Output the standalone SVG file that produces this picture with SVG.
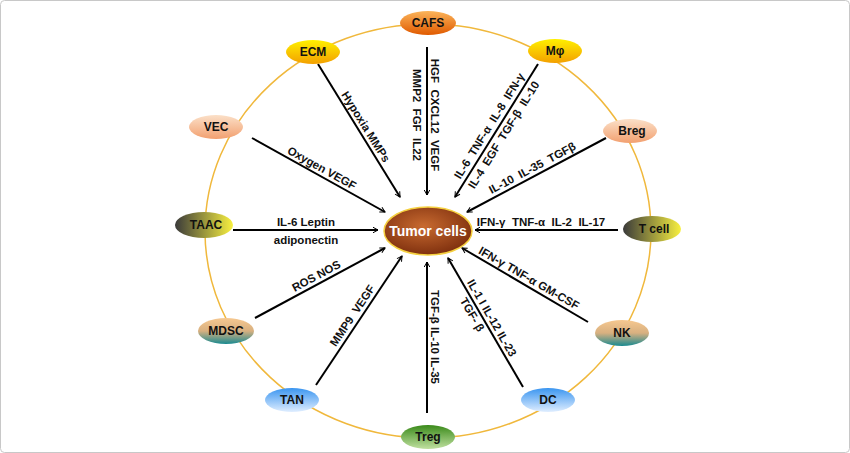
<svg xmlns="http://www.w3.org/2000/svg" width="850" height="453" viewBox="0 0 850 453">
<defs>
<style>
.t{font-family:"Liberation Sans",Arial,sans-serif;font-weight:bold;font-size:11.5px;fill:#111;text-anchor:middle;white-space:pre}
.n{font-family:"Liberation Sans",Arial,sans-serif;font-weight:bold;font-size:12px;fill:#111;text-anchor:middle}
.a{stroke:#000;stroke-width:2;fill:none;marker-end:url(#ah)}
</style>
<marker id="ah" viewBox="0 0 12 12" refX="11" refY="6" markerWidth="6" markerHeight="6" markerUnits="userSpaceOnUse" orient="auto" overflow="visible">
<path d="M1,0.5 L11,6 L1,11.5" fill="none" stroke="#000" stroke-width="2"/>
</marker>
<linearGradient id="gO" x1="0" y1="0" x2="0" y2="1"><stop offset="0" stop-color="#fbb45a"/><stop offset="1" stop-color="#e05a00"/></linearGradient>
<linearGradient id="gY" x1="0" y1="0" x2="0" y2="1"><stop offset="0" stop-color="#fff000"/><stop offset="1" stop-color="#f3a000"/></linearGradient>
<linearGradient id="gP" x1="0" y1="0" x2="0" y2="1"><stop offset="0" stop-color="#fbe0c8"/><stop offset="1" stop-color="#f2a070"/></linearGradient>
<linearGradient id="gD" x1="0" y1="0" x2="1" y2="0"><stop offset="0" stop-color="#3a3a3a"/><stop offset="1" stop-color="#f8f040"/></linearGradient>
<linearGradient id="gT" x1="0" y1="0" x2="0" y2="1"><stop offset="0" stop-color="#f6c890"/><stop offset="0.5" stop-color="#d8b080"/><stop offset="1" stop-color="#1a8a90"/></linearGradient>
<linearGradient id="gB" x1="0" y1="0" x2="0" y2="1"><stop offset="0" stop-color="#3a95f0"/><stop offset="1" stop-color="#e0eeff"/></linearGradient>
<linearGradient id="gG" x1="0" y1="0" x2="0" y2="1"><stop offset="0" stop-color="#3a8a1a"/><stop offset="1" stop-color="#c0e0a0"/></linearGradient>
<radialGradient id="gR" cx="0.45" cy="0.4" r="0.65"><stop offset="0" stop-color="#c86a30"/><stop offset="1" stop-color="#7a2c0c"/></radialGradient>
</defs>
<rect x="0.5" y="0.5" width="849" height="452" rx="4" fill="#fff" stroke="#c8c8c8"/>
<ellipse cx="428" cy="231" rx="223" ry="207" fill="none" stroke="#f0b83c" stroke-width="1.5"/>
<g id="connectors">
<line class="a" x1="427" y1="47" x2="427" y2="195"/>
<line class="a" x1="318" y1="64" x2="400" y2="197"/>
<line class="a" x1="538" y1="64" x2="455" y2="197"/>
<line class="a" x1="606" y1="138" x2="467" y2="212"/>
<line class="a" x1="252" y1="138" x2="385" y2="212"/>
<line class="a" x1="233" y1="230" x2="378" y2="230"/>
<line class="a" x1="618" y1="230" x2="475" y2="230"/>
<line class="a" x1="255" y1="318" x2="385" y2="248"/>
<line class="a" x1="588" y1="322" x2="462" y2="248"/>
<line class="a" x1="316" y1="385" x2="402" y2="256"/>
<line class="a" x1="523" y1="387" x2="448" y2="258"/>
<line class="a" x1="427" y1="413" x2="427" y2="262"/>
<text class="t" transform="translate(427,115) rotate(90)" dy="-4">HGF  CXCL12  VEGF</text>
<text class="t" transform="translate(427,115) rotate(90)" dy="14">MMP2  FGF  IL22</text>
<text class="t" transform="translate(359,131) rotate(58)" dy="-4">Hypoxia MMPs</text>
<text class="t" transform="translate(496,130) rotate(-58)" dy="-4">IL-6  TNF-α  IL-8  IFN-γ</text>
<text class="t" transform="translate(496,130) rotate(-58)" dy="13">IL-4  EGF  TGF-β  IL-10</text>
<text class="t" transform="translate(536,175) rotate(-28)" dy="-4">IL-10  IL-35  TGFβ</text>
<text class="t" transform="translate(318,175) rotate(29)" dy="-4">Oxygen VEGF</text>
<text class="t" x="306" y="226">IL-6 Leptin</text>
<text class="t" x="306" y="244">adiponectin</text>
<text class="t" x="541" y="226">IFN-γ  TNF-α  IL-2  IL-17</text>
<text class="t" transform="translate(320,283) rotate(-28)" dy="-4">ROS NOS</text>
<text class="t" transform="translate(525,285) rotate(30)" dy="-4">IFN-γ TNF-α GM-CSF</text>
<text class="t" transform="translate(359,320) rotate(-56)" dy="-4">MMP9  VEGF</text>
<text class="t" transform="translate(485,322) rotate(60)" dy="-4">IL-1 I IL-12 IL-23</text>
<text class="t" transform="translate(480,310) rotate(60)" dy="13">TGF- β</text>
<text class="t" transform="translate(427,337) rotate(90)" dy="-4">TGF-β IL-10 IL-35</text>
</g>
<g id="tumor"><ellipse cx="428" cy="231" rx="44" ry="24" fill="url(#gR)" stroke="#f5d040" stroke-width="1.5"/><text class="n" x="428" y="236" style="fill:#fff;font-size:14px">Tumor cells</text></g>
<g id="cafs"><ellipse cx="428" cy="23" rx="28" ry="12" fill="url(#gO)"/><text class="n" x="428" y="27">CAFS</text></g>
<g id="ecm"><ellipse cx="313" cy="52" rx="27" ry="12" fill="url(#gY)"/><text class="n" x="313" y="56">ECM</text></g>
<g id="mphi"><ellipse cx="555" cy="51" rx="27" ry="12" fill="url(#gY)"/><text class="n" x="555" y="55">Mφ</text></g>
<g id="vec"><ellipse cx="216" cy="127" rx="27" ry="12" fill="url(#gP)"/><text class="n" x="216" y="131">VEC</text></g>
<g id="breg"><ellipse cx="630" cy="131" rx="27" ry="12" fill="url(#gP)"/><text class="n" x="632" y="135">Breg</text></g>
<g id="taac"><ellipse cx="204" cy="225" rx="29" ry="13" fill="url(#gD)"/><text class="n" x="206" y="229">TAAC</text></g>
<g id="tcell"><ellipse cx="652" cy="229" rx="29" ry="13" fill="url(#gD)"/><text class="n" x="654" y="233">T cell</text></g>
<g id="mdsc"><ellipse cx="226" cy="331" rx="28" ry="13" fill="url(#gT)"/><text class="n" x="226" y="335">MDSC</text></g>
<g id="nk"><ellipse cx="622" cy="333" rx="27" ry="13" fill="url(#gT)"/><text class="n" x="622" y="337">NK</text></g>
<g id="tan"><ellipse cx="292" cy="400" rx="27" ry="12" fill="url(#gB)"/><text class="n" x="292" y="404">TAN</text></g>
<g id="dc"><ellipse cx="548" cy="400" rx="27" ry="12" fill="url(#gB)"/><text class="n" x="548" y="404">DC</text></g>
<g id="treg"><ellipse cx="428" cy="437" rx="27" ry="12" fill="url(#gG)"/><text class="n" x="428" y="441">Treg</text></g>
</svg>
